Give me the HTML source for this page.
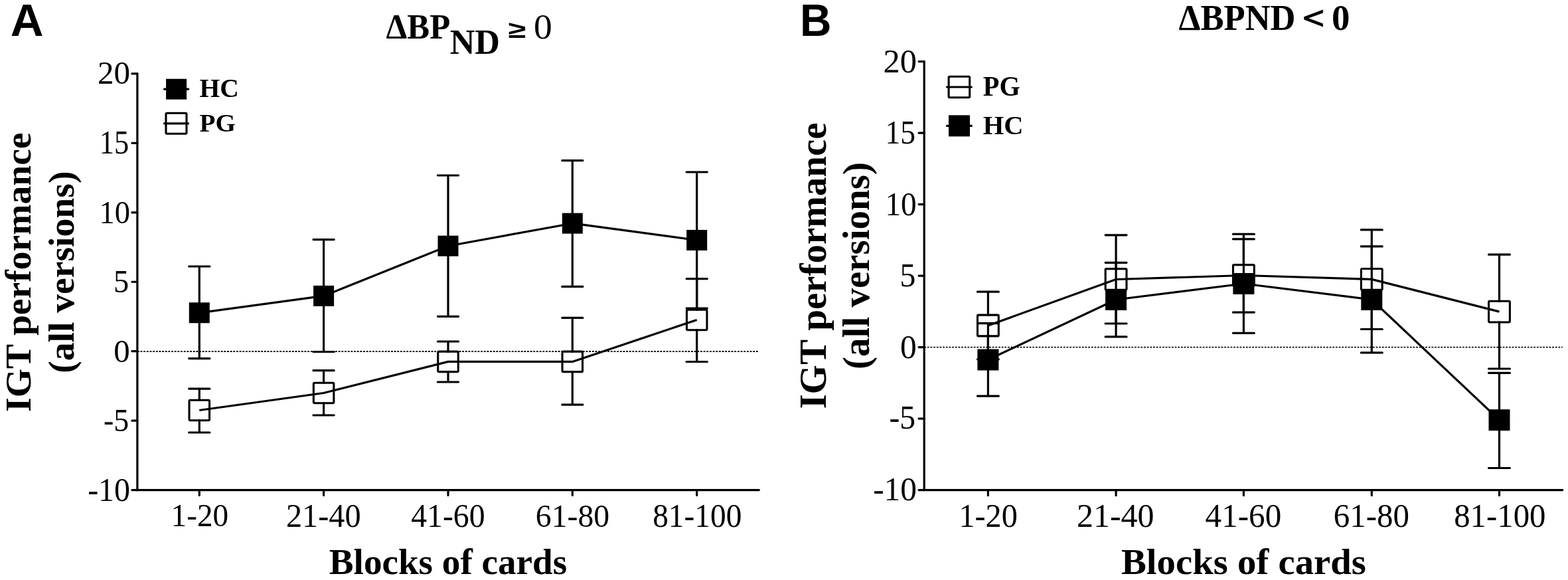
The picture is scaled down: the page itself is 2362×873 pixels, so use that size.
<!DOCTYPE html>
<html><head><meta charset="utf-8"><title>IGT performance by blocks of cards</title>
<style>
html,body{margin:0;padding:0;background:#fff;}
body{width:2362px;height:873px;overflow:hidden;}
svg{display:block;}
</style></head>
<body>
<svg width="2362" height="873" viewBox="0 0 2362 873">
<rect width="2362" height="873" fill="#fff"/>
<line x1="206.9" y1="529" x2="1143.4" y2="529" stroke="#000" stroke-width="1.9" stroke-dasharray="2.8 1.86"/>
<path d="M206.9 110.96 V737.57 H1143.4" fill="none" stroke="#000" stroke-width="3.2" stroke-linecap="round"/>
<path d="M198.9 110.96H206.9M198.9 215.4H206.9M198.9 319.83H206.9M198.9 424.27H206.9M198.9 528.7H206.9M198.9 633.13H206.9M198.9 737.57H206.9M300.3 737.57V745.57M487.6 737.57V745.57M675 737.57V745.57M862.3 737.57V745.57M1049.7 737.57V745.57" fill="none" stroke="#000" stroke-width="3.2" stroke-linecap="round"/>
<g transform="translate(46.3 409.7) rotate(-90)" font-family='"Liberation Serif", "Times New Roman", serif' font-weight="bold" font-size="55.6" text-anchor="middle"><text x="0" y="0">IGT performance</text><text x="0" y="64.9">(all versions)</text></g>
<path d="M300.3 455.8V401M284.7 401H315.9M300.3 485.8V539.6M284.7 539.6H315.9M487.6 430.4V360.6M472 360.6H503.2M487.6 460.4V529.5M472 529.5H503.2M675 355.2V264M659.4 264H690.6M675 385.2V476.3M659.4 476.3H690.6M862.3 321.2V241.6M846.7 241.6H877.9M862.3 351.2V431.4M846.7 431.4H877.9M1049.7 346.5V259M1034.1 259H1065.3M1049.7 376.5V464M1034.1 464H1065.3" fill="none" stroke="#000" stroke-width="3.2" stroke-linecap="round"/>
<path d="M300.3 470.8L487.6 445.4L675 370.2L862.3 336.2L1049.7 361.5" fill="none" stroke="#000" stroke-width="3.2" stroke-linejoin="round"/>
<rect x="284.8" y="455.3" width="31" height="31" fill="#000"/>
<rect x="472.1" y="429.9" width="31" height="31" fill="#000"/>
<rect x="659.5" y="354.7" width="31" height="31" fill="#000"/>
<rect x="846.8" y="320.7" width="31" height="31" fill="#000"/>
<rect x="1034.2" y="346" width="31" height="31" fill="#000"/>
<path d="M300.3 602.5V585.1M284.7 585.1H315.9M300.3 632.5V651M284.7 651H315.9M487.6 576.5V557.7M472 557.7H503.2M487.6 606.5V625M472 625H503.2M675 529.4V514M659.4 514H690.6M675 559.4V575M659.4 575H690.6M862.3 529.4V478.3M846.7 478.3H877.9M862.3 559.4V609.1M846.7 609.1H877.9M1049.7 466.5V419.6M1034.1 419.6H1065.3M1049.7 496.5V544.5M1034.1 544.5H1065.3" fill="none" stroke="#000" stroke-width="3.2" stroke-linecap="round"/>
<path d="M300.3 617.5L487.6 591.5L675 544.4L862.3 544.4L1049.7 481.5" fill="none" stroke="#000" stroke-width="3.2" stroke-linejoin="round"/>
<rect x="285.05" y="602.25" width="30.5" height="30.5" fill="none" stroke="#000" stroke-width="3.1" rx="1.5"/>
<rect x="472.35" y="576.25" width="30.5" height="30.5" fill="none" stroke="#000" stroke-width="3.1" rx="1.5"/>
<rect x="659.75" y="529.15" width="30.5" height="30.5" fill="none" stroke="#000" stroke-width="3.1" rx="1.5"/>
<rect x="847.05" y="529.15" width="30.5" height="30.5" fill="none" stroke="#000" stroke-width="3.1" rx="1.5"/>
<rect x="1034.45" y="466.25" width="30.5" height="30.5" fill="none" stroke="#000" stroke-width="3.1" rx="1.5"/>
<line x1="247.6" y1="134.2" x2="283.6" y2="134.2" stroke="#000" stroke-width="3.2" stroke-linecap="round"/>
<rect x="250.1" y="118.7" width="31" height="31" fill="#000"/>
<line x1="247.5" y1="185.8" x2="283.5" y2="185.8" stroke="#000" stroke-width="3.2" stroke-linecap="round"/>
<rect x="250" y="170.3" width="31" height="31" fill="none" stroke="#000" stroke-width="3.1" rx="1.5"/>
<line x1="1392.2" y1="522.6" x2="2353.8" y2="522.6" stroke="#000" stroke-width="1.9" stroke-dasharray="2.8 1.86"/>
<path d="M1392.2 92.6 V737.6 H2353.8" fill="none" stroke="#000" stroke-width="3.2" stroke-linecap="round"/>
<path d="M1384.1 92.6H1392.2M1384.1 200.1H1392.2M1384.1 307.6H1392.2M1384.1 415.1H1392.2M1384.1 522.6H1392.2M1384.1 630.1H1392.2M1384.1 737.6H1392.2M1488.4 737.6V745.7M1681.1 737.6V745.7M1873.4 737.6V745.7M2066.3 737.6V745.7M2258.5 737.6V745.7" fill="none" stroke="#000" stroke-width="3.2" stroke-linecap="round"/>
<g transform="translate(1243.5 400) rotate(-90)" font-family='"Liberation Serif", "Times New Roman", serif' font-weight="bold" font-size="57" text-anchor="middle"><text x="0" y="0">IGT performance</text><text x="0" y="65.7">(all versions)</text></g>
<path d="M1488.4 474.5V439.2M1472.45 439.2H1504.35M1488.4 505.5V540.8M1472.45 540.8H1504.35M1681.1 405V353.8M1665.15 353.8H1697.05M1681.1 436V487M1665.15 487H1697.05M1873.4 399V359.8M1857.45 359.8H1889.35M1873.4 430V470.1M1857.45 470.1H1889.35M2066.3 404.9V345.9M2050.35 345.9H2082.25M2066.3 435.9V495.5M2050.35 495.5H2082.25M2258.5 453.6V383.2M2242.55 383.2H2274.45M2258.5 484.6V555M2242.55 555H2274.45" fill="none" stroke="#000" stroke-width="3.2" stroke-linecap="round"/>
<path d="M1488.4 490L1681.1 420.5L1873.4 414.5L2066.3 420.4L2258.5 469.1" fill="none" stroke="#000" stroke-width="3.2" stroke-linejoin="round"/>
<rect x="1472.5" y="474.1" width="31.8" height="31.8" fill="none" stroke="#000" stroke-width="3.1" rx="1.5"/>
<rect x="1665.2" y="404.6" width="31.8" height="31.8" fill="none" stroke="#000" stroke-width="3.1" rx="1.5"/>
<rect x="1857.5" y="398.6" width="31.8" height="31.8" fill="none" stroke="#000" stroke-width="3.1" rx="1.5"/>
<rect x="2050.4" y="404.5" width="31.8" height="31.8" fill="none" stroke="#000" stroke-width="3.1" rx="1.5"/>
<rect x="2242.6" y="453.2" width="31.8" height="31.8" fill="none" stroke="#000" stroke-width="3.1" rx="1.5"/>
<path d="M1488.4 526V486.6M1472.45 486.6H1504.35M1488.4 557V596.2M1472.45 596.2H1504.35M1681.1 435.5V395.3M1665.15 395.3H1697.05M1681.1 466.5V506.8M1665.15 506.8H1697.05M1873.4 411.5V352.4M1857.45 352.4H1889.35M1873.4 442.5V501.3M1857.45 501.3H1889.35M2066.3 435.5V370.9M2050.35 370.9H2082.25M2066.3 466.5V530.8M2050.35 530.8H2082.25M2258.5 616.7V561.3M2242.55 561.3H2274.45M2258.5 647.7V704.5M2242.55 704.5H2274.45" fill="none" stroke="#000" stroke-width="3.2" stroke-linecap="round"/>
<path d="M1488.4 541.5L1681.1 451L1873.4 427L2066.3 451L2258.5 632.2" fill="none" stroke="#000" stroke-width="3.2" stroke-linejoin="round"/>
<rect x="1472.4" y="525.5" width="32" height="32" fill="#000"/>
<rect x="1665.1" y="435" width="32" height="32" fill="#000"/>
<rect x="1857.4" y="411" width="32" height="32" fill="#000"/>
<rect x="2050.3" y="435" width="32" height="32" fill="#000"/>
<rect x="2242.5" y="616.2" width="32" height="32" fill="#000"/>
<line x1="1426.45" y1="131" x2="1463.35" y2="131" stroke="#000" stroke-width="3.2" stroke-linecap="round"/>
<rect x="1429.1" y="115.2" width="31.6" height="31.6" fill="none" stroke="#000" stroke-width="3.1" rx="1.5"/>
<line x1="1426.55" y1="189.4" x2="1463.45" y2="189.4" stroke="#000" stroke-width="3.2" stroke-linecap="round"/>
<rect x="1429" y="173.4" width="32" height="32" fill="#000"/>
<text transform="matrix(1.0463 0 0 1.0352 15.87 53.60)" font-family='"Liberation Sans", Arial, sans-serif' font-weight="bold" font-size="66">A</text>
<text transform="matrix(0.9963 0 0 1.0418 1205.02 53.70)" font-family='"Liberation Sans", Arial, sans-serif' font-weight="bold" font-size="66">B</text>
<text transform="matrix(0.9947 0 0 1.0537 581.55 58.00)" font-family='"Liberation Serif", "Times New Roman", serif' font-weight="bold" font-size="51">&#916;BP</text>
<text transform="matrix(1.0235 0 0 1.0537 677.68 80.60)" font-family='"Liberation Serif", "Times New Roman", serif' font-weight="bold" font-size="51">ND</text>
<text transform="matrix(1.2150 0 0 0.8990 765.38 56.90)" font-family='"Liberation Sans", Arial, sans-serif' font-weight="bold" font-size="40">&#8805;</text>
<text transform="matrix(1.0884 0 0 1.0453 804.12 58.18)" font-family='"Liberation Serif", "Times New Roman", serif' font-weight="normal" font-size="51">0</text>
<text transform="matrix(0.9917 0 0 1.0543 1775.56 44.80)" font-family='"Liberation Serif", "Times New Roman", serif' font-weight="bold" font-size="53">&#916;BPND</text>
<text transform="matrix(0.8421 0 0 0.8814 1960.07 41.50)" font-family='"DejaVu Sans", sans-serif' font-weight="normal" font-size="53" stroke="#000" stroke-width="0.9">&lt;</text>
<text transform="matrix(1.0356 0 0 1.0406 2006.03 44.58)" font-family='"Liberation Serif", "Times New Roman", serif' font-weight="bold" font-size="53">0</text>
<text transform="matrix(1.0215 0 0 1.0123 147.06 126.29)" font-family='"Liberation Serif", "Times New Roman", serif' font-weight="normal" font-size="48">20</text>
<text transform="matrix(0.9269 0 0 1.0388 149.66 230.98)" font-family='"Liberation Serif", "Times New Roman", serif' font-weight="normal" font-size="48">15</text>
<text transform="matrix(0.9690 0 0 1.0308 149.48 335.68)" font-family='"Liberation Serif", "Times New Roman", serif' font-weight="normal" font-size="48">10</text>
<text transform="matrix(0.9662 0 0 1.0312 171.04 440.48)" font-family='"Liberation Serif", "Times New Roman", serif' font-weight="normal" font-size="48">5</text>
<text transform="matrix(1.0195 0 0 1.0215 171.32 544.59)" font-family='"Liberation Serif", "Times New Roman", serif' font-weight="normal" font-size="48">0</text>
<text transform="matrix(0.9572 0 0 1.0188 155.92 648.99)" font-family='"Liberation Serif", "Times New Roman", serif' font-weight="normal" font-size="48">-5</text>
<text transform="matrix(0.9983 0 0 1.0400 132.15 753.68)" font-family='"Liberation Serif", "Times New Roman", serif' font-weight="normal" font-size="48">-10</text>
<text transform="matrix(1.0311 0 0 1.0412 1330.58 108.98)" font-family='"Liberation Serif", "Times New Roman", serif' font-weight="normal" font-size="49">20</text>
<text transform="matrix(0.9310 0 0 1.0321 1333.54 215.98)" font-family='"Liberation Serif", "Times New Roman", serif' font-weight="normal" font-size="49">15</text>
<text transform="matrix(0.9651 0 0 1.0382 1333.40 323.68)" font-family='"Liberation Serif", "Times New Roman", serif' font-weight="normal" font-size="49">10</text>
<text transform="matrix(0.9722 0 0 1.0202 1355.43 430.99)" font-family='"Liberation Serif", "Times New Roman", serif' font-weight="normal" font-size="49">5</text>
<text transform="matrix(1.0095 0 0 1.0382 1356.03 538.68)" font-family='"Liberation Serif", "Times New Roman", serif' font-weight="normal" font-size="49">0</text>
<text transform="matrix(0.9691 0 0 1.0233 1339.50 645.49)" font-family='"Liberation Serif", "Times New Roman", serif' font-weight="normal" font-size="49">-5</text>
<text transform="matrix(1.0105 0 0 1.0412 1315.13 753.28)" font-family='"Liberation Serif", "Times New Roman", serif' font-weight="normal" font-size="49">-10</text>
<text transform="matrix(0.9854 0 0 1.0277 257.51 792.39)" font-family='"Liberation Serif", "Times New Roman", serif' font-weight="normal" font-size="48">1-20</text>
<text transform="matrix(1.0069 0 0 1.0338 430.89 792.58)" font-family='"Liberation Serif", "Times New Roman", serif' font-weight="normal" font-size="48">21-40</text>
<text transform="matrix(0.9950 0 0 1.0338 619.21 792.58)" font-family='"Liberation Serif", "Times New Roman", serif' font-weight="normal" font-size="48">41-60</text>
<text transform="matrix(0.9949 0 0 1.0338 806.81 792.58)" font-family='"Liberation Serif", "Times New Roman", serif' font-weight="normal" font-size="48">61-80</text>
<text transform="matrix(0.9872 0 0 1.0338 983.17 792.58)" font-family='"Liberation Serif", "Times New Roman", serif' font-weight="normal" font-size="48">81-100</text>
<text transform="matrix(0.9851 0 0 1.0504 1444.41 793.37)" font-family='"Liberation Serif", "Times New Roman", serif' font-weight="normal" font-size="49">1-20</text>
<text transform="matrix(1.0204 0 0 1.0534 1621.90 793.47)" font-family='"Liberation Serif", "Times New Roman", serif' font-weight="normal" font-size="49">21-40</text>
<text transform="matrix(1.0027 0 0 1.0534 1815.60 793.47)" font-family='"Liberation Serif", "Times New Roman", serif' font-weight="normal" font-size="49">41-60</text>
<text transform="matrix(1.0000 0 0 1.0534 2008.80 793.47)" font-family='"Liberation Serif", "Times New Roman", serif' font-weight="normal" font-size="49">61-80</text>
<text transform="matrix(0.9967 0 0 1.0534 2190.16 793.47)" font-family='"Liberation Serif", "Times New Roman", serif' font-weight="normal" font-size="49">81-100</text>
<text transform="matrix(1.0027 0 0 0.9834 495.80 863.71)" font-family='"Liberation Serif", "Times New Roman", serif' font-weight="bold" font-size="55">Blocks of cards</text>
<text transform="matrix(0.9957 0 0 0.9659 1689.00 863.72)" font-family='"Liberation Serif", "Times New Roman", serif' font-weight="bold" font-size="57">Blocks of cards</text>
<text transform="matrix(1.0137 0 0 1.0248 300.54 145.99)" font-family='"Liberation Serif", "Times New Roman", serif' font-weight="bold" font-size="39">HC</text>
<text transform="matrix(1.0048 0 0 0.9867 300.55 197.51)" font-family='"Liberation Serif", "Times New Roman", serif' font-weight="bold" font-size="39">PG</text>
<text transform="matrix(1.0065 0 0 1.0296 1480.85 143.89)" font-family='"Liberation Serif", "Times New Roman", serif' font-weight="bold" font-size="40">PG</text>
<text transform="matrix(1.0133 0 0 1.0185 1480.84 201.99)" font-family='"Liberation Serif", "Times New Roman", serif' font-weight="bold" font-size="40">HC</text>
</svg>
</body></html>
